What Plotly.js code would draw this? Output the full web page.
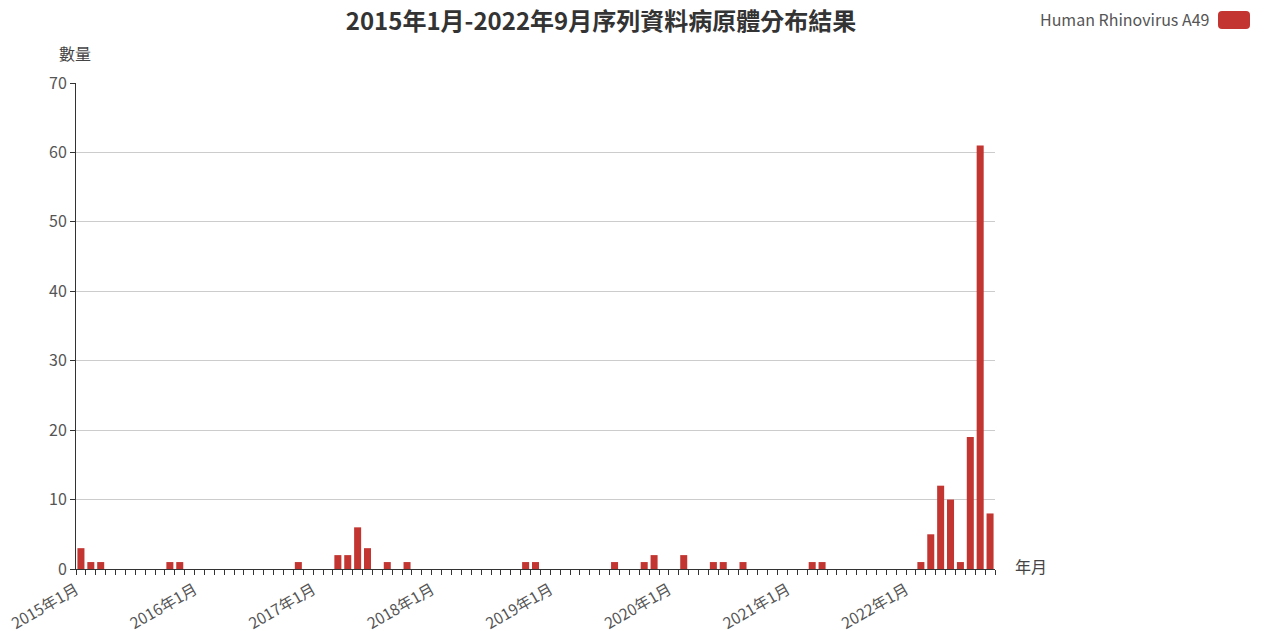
<!DOCTYPE html>
<html>
<head>
<meta charset="utf-8">
<script src="https://cdn.plot.ly/plotly-3.0.1.min.js"></script>
<style>html,body{margin:0;padding:0;background:#fff}#chart{width:1264px;height:631px}</style>
</head>
<body>
<div id="chart"></div>
<script>
// Months 2015-01 .. 2022-09
const years = [2015, 2016, 2017, 2018, 2019, 2020, 2021, 2022];
const categories = [];
years.forEach(y => { for (let m = 1; m <= 12; m++) { if (y === 2022 && m > 9) break; categories.push(y + '年' + m + '月'); } });

const seriesName = 'Human Rhinovirus A49';
// counts per month
const counts = [
  3,1,1,0,0,0,0,0,0,1,1,0,          // 2015
  0,0,0,0,0,0,0,0,0,0,1,0,          // 2016
  0,0,2,2,6,3,0,1,0,1,0,0,          // 2017
  0,0,0,0,0,0,0,0,0,1,1,0,          // 2018
  0,0,0,0,0,0,1,0,0,1,2,0,          // 2019
  0,2,0,0,1,1,0,1,0,0,0,0,          // 2020
  0,0,1,1,0,0,0,0,0,0,0,0,          // 2021
  0,1,5,12,10,1,19,61,8             // 2022
];
const yTicks = [0, 10, 20, 30, 40, 50, 60, 70];

const idx = categories.map((_, i) => i);
const tickvals = [];
const ticktext = [];
for (let i = 0; i <= categories.length; i++) {
  tickvals.push(i - 0.5);
  ticktext.push(i < categories.length && categories[i].endsWith('年1月') ? categories[i] : '');
}

const font = '"Noto Sans CJK TC", "Noto Sans", sans-serif';
const red = '#c23531';

const L = 76, R = 995, T = 83, B = 569;
const px = x => (x - L) / (R - L);
const py = y => (B - y) / (B - T);

Plotly.newPlot('chart', [{
  type: 'bar',
  x: idx,
  y: counts,
  name: seriesName,
  text: categories,
  textposition: 'none',
  hovertemplate: '%{text}: %{y}<extra>' + seriesName + '</extra>',
  marker: {color: red, line: {width: 0}},
  showlegend: false
}], {
  width: 1264, height: 631,
  margin: {l: L, r: 1264 - R, t: T, b: 631 - B, pad: 0},
  paper_bgcolor: '#fff', plot_bgcolor: '#fff',
  font: {family: font, color: '#333', size: 15},
  bargap: 0.29,
  title: {text: '<b>2015年1月-2022年9月序列資料病原體分布結果</b>', x: 601 / 1264, xanchor: 'center', xref: 'container', y: 1 - 22 / 631, yanchor: 'middle', yref: 'container', font: {size: 24, color: '#333', family: font}},
  xaxis: {
    range: [-0.5, categories.length - 0.5],
    tickmode: 'array', tickvals: tickvals, ticktext: ticktext,
    tickangle: -30, ticks: 'outside', ticklen: 5, tickcolor: '#333', tickwidth: 1,
    showline: true, linecolor: '#333', linewidth: 1,
    showgrid: false, zeroline: false, fixedrange: true,
    tickfont: {size: 15.5, color: '#555'}
  },
  yaxis: {
    range: [0, 70], tickmode: 'array', tickvals: yTicks,
    ticks: 'outside', ticklen: 5, tickcolor: '#333',
    showline: true, linecolor: '#333', linewidth: 1,
    showgrid: true, gridcolor: '#cccccc', gridwidth: 1, zeroline: false,
    tickfont: {size: 16, color: '#555'}
  },
  annotations: [
    {text: '數量', xref: 'paper', yref: 'paper', x: px(75), y: py(53), xanchor: 'center', yanchor: 'middle', showarrow: false, font: {size: 16, color: '#444'}},
    {text: '年月', xref: 'paper', yref: 'paper', x: px(1013), y: py(566), xanchor: 'left', yanchor: 'middle', showarrow: false, font: {size: 16, color: '#444'}},
    {text: seriesName, xref: 'paper', yref: 'paper', x: px(1212), y: py(19), xanchor: 'right', yanchor: 'middle', showarrow: false, font: {size: 16, color: '#555'}}
  ],
  shapes: [
    {type: 'path', xref: 'paper', yref: 'paper', line: {width: 0}, fillcolor: red,
     path: (() => {
       const x0 = 1218, x1 = 1250, y0 = 11, y1 = 29, r = 4;
       return 'M' + px(x0 + r) + ',' + py(y0) + ' L' + px(x1 - r) + ',' + py(y0) +
         ' Q' + px(x1) + ',' + py(y0) + ' ' + px(x1) + ',' + py(y0 + r) +
         ' L' + px(x1) + ',' + py(y1 - r) +
         ' Q' + px(x1) + ',' + py(y1) + ' ' + px(x1 - r) + ',' + py(y1) +
         ' L' + px(x0 + r) + ',' + py(y1) +
         ' Q' + px(x0) + ',' + py(y1) + ' ' + px(x0) + ',' + py(y1 - r) +
         ' L' + px(x0) + ',' + py(y0 + r) +
         ' Q' + px(x0) + ',' + py(y0) + ' ' + px(x0 + r) + ',' + py(y0) + ' Z';
     })()}
  ]
}, {displayModeBar: false});
</script>
</body>
</html>
